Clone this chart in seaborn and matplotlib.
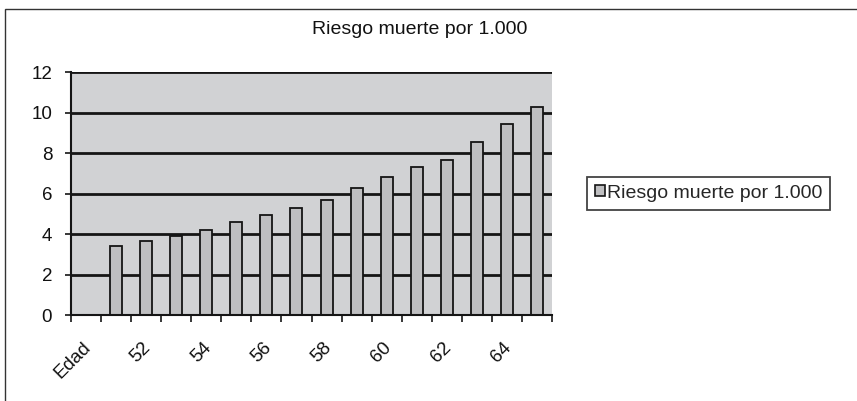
import numpy as np
import pandas as pd
import matplotlib
matplotlib.use("Agg")
import matplotlib.pyplot as plt
import matplotlib.transforms as mtransforms
from matplotlib.patches import Patch, Rectangle
import seaborn as sns

# Categories along the x axis (first slot is the axis caption, no value)
categories = ["Edad"] + [str(a) for a in range(51, 66)]
ages = [str(a) for a in range(51, 66)]
riesgo = [3.41, 3.67, 3.89, 4.19, 4.58, 4.96, 5.29, 5.70, 6.27, 6.81,
          7.32, 7.67, 8.56, 9.43, 10.30]
label_positions = list(range(0, 16, 2))
label_texts = [categories[i] for i in label_positions]
yticks = [0, 2, 4, 6, 8, 10, 12]

series_name = "Riesgo muerte por 1.000"
df = pd.DataFrame({"Edad": ages, "Riesgo": riesgo})

sns.set_theme(style="white")
plt.rcParams["font.family"] = ["Liberation Sans", "DejaVu Sans"]

W, H = 857, 401
fig = plt.figure(figsize=(W / 100, H / 100), dpi=100)
fig.patch.set_facecolor("white")

left, right, bottom, top = 71, 552, 315, 72.3
ax = fig.add_axes([left / W, 1 - bottom / H, (right - left) / W, (bottom - top) / H])
ax.set_facecolor("#D1D2D4")

sns.barplot(data=df, x="Edad", y="Riesgo", order=categories, ax=ax,
            color="#BFBFC1", width=0.4, edgecolor="#151515", linewidth=1.3,
            saturation=1, errorbar=None, zorder=3)
for p in ax.patches:
    p.set_facecolor("#BFBFC1")

ax.set_xlim(-0.5, 15.5)
ax.set_ylim(0, 12)
ax.set_xlabel("")
ax.set_ylabel("")

# Horizontal gridlines
for y in yticks:
    ax.axhline(y, color="#151515", lw=2.0, zorder=2)

tick_fs = 13.5
ax.set_yticks(yticks)
ax.set_yticklabels([str(v) for v in yticks], fontsize=tick_fs, color="#111111")
ax.tick_params(axis="y", direction="out", length=4.5, width=1.2, color="#151515", pad=9, left=True)

ax.set_xticks(label_positions)
ax.set_xticklabels(label_texts, fontsize=tick_fs, color="#111111", rotation=45,
                   ha="right", va="top", rotation_mode="anchor")
ax.set_xticks(np.arange(-0.5, 16.0, 1.0), minor=True)
ax.tick_params(axis="x", which="major", length=0, pad=17, bottom=True)
ax.tick_params(axis="x", which="minor", direction="out", length=5, width=1.2,
               color="#151515", bottom=True)

# Nudge the slanted category labels slightly left
shift = mtransforms.ScaledTranslation(-4 / 100, 0, fig.dpi_scale_trans)
for lbl in ax.get_xticklabels():
    lbl.set_transform(lbl.get_transform() + shift)

for s in ["top", "right"]:
    ax.spines[s].set_visible(False)
for s in ["left", "bottom"]:
    ax.spines[s].set_visible(True)
    ax.spines[s].set_color("#151515")
    ax.spines[s].set_linewidth(1.5)
    ax.spines[s].set_zorder(4)

fig.text(420 / W, 1 - 30 / H, series_name, ha="center", va="center",
         fontsize=14, color="#111111")

handle = Patch(facecolor="#BFBFC1", edgecolor="#151515", linewidth=1.2)
leg = fig.legend([handle], [series_name], loc="upper left",
                 bbox_to_anchor=(587 / W, 1 - 177 / H), fontsize=14,
                 frameon=True, fancybox=False, handlelength=0.5, handleheight=0.5,
                 handletextpad=0.12, borderpad=0.4, borderaxespad=0)
leg.get_frame().set_edgecolor("#151515")
leg.get_frame().set_linewidth(1.3)

# Outer chart frame
fig.add_artist(Rectangle((5 / W, -0.1), 1.2, 1.1 - 9 / H, transform=fig.transFigure,
                         fill=False, edgecolor="#333333", lw=1.0))

fig.savefig("out.png", dpi=100)
